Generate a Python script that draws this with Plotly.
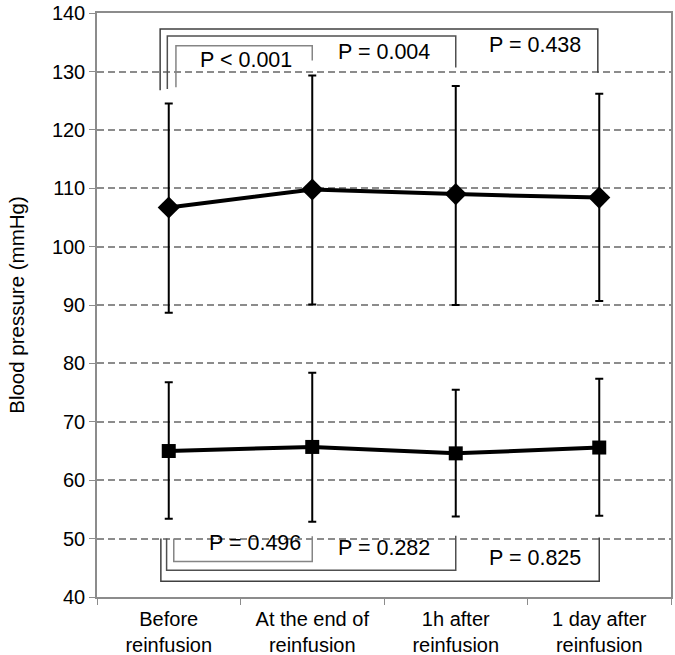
import plotly.graph_objects as go

categories = ["Before<br>reinfusion", "At the end of<br>reinfusion",
              "1h after<br>reinfusion", "1 day after<br>reinfusion"]

upper_mean = [106.7, 109.8, 109.0, 108.4]
upper_hi = [124.5, 129.3, 127.5, 126.2]
upper_lo = [88.7, 90.1, 90.0, 90.7]

lower_mean = [65.0, 65.7, 64.6, 65.6]
lower_hi = [76.8, 78.4, 75.5, 77.4]
lower_lo = [53.4, 52.9, 53.8, 53.9]

# comparison brackets: (x_left, x_right, y_line, y_left_end, y_right_end, label, label_x, label_y, colour)
top_brackets = [
    (0.05, 1.0, 134.4, 127.3, 131.9, "P < 0.001", 0.54, 132.0, "#858585"),
    (-0.01, 2.0, 136.1, 127.0, 130.7, "P = 0.004", 1.5, 133.3, "#505050"),
    (-0.06, 2.99, 137.3, 126.8, 129.8, "P = 0.438", 2.55, 134.6, "#404040"),
]
bottom_brackets = [
    (0.035, 1.0, 46.1, 50.0, 50.4, "P = 0.496", 0.6, 49.2, "#858585"),
    (-0.015, 2.0, 44.6, 50.0, 50.5, "P = 0.282", 1.5, 48.4, "#505050"),
    (-0.055, 3.0, 42.7, 50.0, 50.2, "P = 0.825", 2.55, 46.6, "#404040"),
]

font = "Liberation Sans, Arial, sans-serif"

fig = go.Figure()
for mean, hi, lo, sym, size in [(upper_mean, upper_hi, upper_lo, "diamond", 17),
                                (lower_mean, lower_hi, lower_lo, "square", 14)]:
    fig.add_trace(go.Scatter(
        x=categories, y=mean, mode="lines+markers",
        line=dict(color="black", width=4),
        marker=dict(symbol=sym, size=size, color="black"),
        error_y=dict(type="data", symmetric=False,
                     array=[h - m for h, m in zip(hi, mean)],
                     arrayminus=[m - l for m, l in zip(mean, lo)],
                     color="black", thickness=2, width=4),
        showlegend=False,
    ))

for xl, xr, yl, yle, yre, label, lx, ly, col in top_brackets + bottom_brackets:
    fig.add_shape(type="path",
                  path=f"M {xl} {yle} L {xl} {yl} L {xr} {yl} L {xr} {yre}",
                  xref="x", yref="y", line=dict(color=col, width=1.5))
    fig.add_annotation(x=lx, y=ly, text=label, showarrow=False,
                       xref="x", yref="y", font=dict(size=21.5, color="black", family=font))

fig.update_xaxes(type="category", range=[-0.5, 3.5], tickson="boundaries", automargin=False,
                 ticks="outside", ticklen=6, tickcolor="#8c8c8c", ticklabelstandoff=3,
                 showline=True, linecolor="#8c8c8c", linewidth=1.5, mirror=True,
                 showgrid=False, tickfont=dict(size=20, color="black", family=font))
fig.update_yaxes(range=[40, 140.02], tickvals=[40, 50, 60, 70, 80, 90, 100, 110, 120, 130, 140],
                 ticks="outside", ticklen=6, ticklabeloverflow="allow",
                 tickcolor="#8c8c8c", showline=True, linecolor="#8c8c8c",
                 linewidth=1.5, mirror=True, showgrid=True, gridcolor="#8c8c8c",
                 griddash="7px,4px", gridwidth=1.5, zeroline=False,
                 title=dict(text="Blood pressure (mmHg)", standoff=22,
                            font=dict(size=20.5, color="black", family=font)),
                 tickfont=dict(size=20, color="black", family=font))
fig.update_layout(width=675, height=655, plot_bgcolor="white", paper_bgcolor="white",
                  margin=dict(l=97, r=2, t=8, b=58))
fig.write_html("out.html", config={"displayModeBar": False},
               post_script="document.body.style.margin='0';document.body.style.overflow='hidden';")
